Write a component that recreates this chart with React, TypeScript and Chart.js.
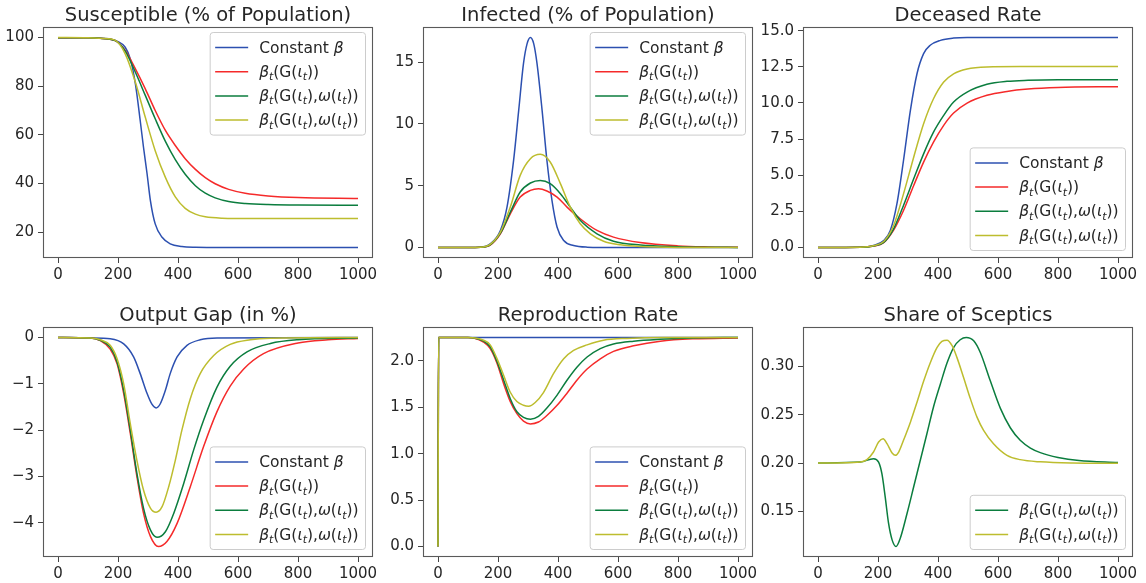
import React, { useEffect, useRef } from "react";
import { Chart, registerables } from "chart.js";
Chart.register(...registerables);

// ---------- shared axis data ----------
const X_TICKS = [0, 200, 400, 600, 800, 1000];
const X_MIN = -50;
const X_MAX = 1050;

// ---------- colours ----------
const BLUE = "#2c50b0";
const RED = "#f52a2a";
const GREEN = "#0b7d3e";
const YELLOW = "#bdbd2e";
const TEXT = "#262626";

// ---------- legend labels (mathtext-like segments) ----------
type Seg = { t: string; i?: boolean; s?: boolean };
const LBL_CONST: Seg[] = [{ t: "Constant " }, { t: "β", i: true }];
const LBL_G: Seg[] = [
  { t: "β", i: true }, { t: "t", i: true, s: true }, { t: "(G(" },
  { t: "ι", i: true }, { t: "t", i: true, s: true }, { t: "))" },
];
const LBL_GW: Seg[] = [
  { t: "β", i: true }, { t: "t", i: true, s: true }, { t: "(G(" },
  { t: "ι", i: true }, { t: "t", i: true, s: true }, { t: ")," },
  { t: "ω", i: true }, { t: "(" }, { t: "ι", i: true }, { t: "t", i: true, s: true }, { t: "))" },
];

// ---------- Panel 1: Susceptible ----------
const S_BLUE_X = [0, 100, 150, 180, 200, 224, 241, 258, 274, 285, 297, 308, 324, 347, 374, 413, 458, 550, 1000];
const S_BLUE_Y = [99.9, 99.85, 99.6, 99.2, 98.3, 96.0, 91.2, 80.9, 65.9, 54.9, 43.9, 33.0, 23.4, 17.9, 15.2, 14.1, 13.8, 13.7, 13.7];
const S_RED_X = [0, 100, 150, 191, 224, 258, 291, 324, 358, 391, 424, 458, 491, 524, 569, 624, 700, 800, 1000];
const S_RED_Y = [99.9, 99.85, 99.6, 98.7, 94.7, 87.1, 78.9, 70.0, 61.8, 55.6, 50.2, 45.8, 42.4, 39.9, 37.6, 36.0, 34.9, 34.2, 33.8];
const S_GREEN_X = [0, 100, 150, 191, 224, 258, 291, 324, 358, 391, 424, 458, 491, 524, 569, 624, 700, 800, 1000];
const S_GREEN_Y = [99.9, 99.85, 99.6, 98.7, 94.4, 85.7, 76.2, 66.6, 57.3, 49.8, 43.8, 39.1, 36.0, 34.1, 32.6, 31.8, 31.35, 31.15, 31.1];
const S_YELLOW_X = [0, 100, 150, 191, 224, 258, 291, 324, 358, 391, 424, 458, 491, 547, 650, 800, 1000];
const S_YELLOW_Y = [100, 99.9, 99.6, 98.8, 93.3, 81.6, 67.2, 53.5, 42.5, 34.5, 29.8, 27.4, 26.3, 25.75, 25.6, 25.6, 25.6];
const S_Y_TICKS = [20, 40, 60, 80, 100];
const S_Y_LABELS = ["20", "40", "60", "80", "100"];

// ---------- Panel 2: Infected ----------
const I_BLUE_X = [0, 100, 141, 174, 208, 230, 252, 269, 285, 297, 308, 319, 330, 347, 363, 380, 397, 419, 452, 497, 600, 1000];
const I_BLUE_Y = [0, 0, 0.02, 0.29, 1.38, 3.27, 7.06, 11.1, 14.9, 16.5, 17.0, 16.5, 14.9, 11.1, 7.06, 3.8, 1.64, 0.56, 0.16, 0.03, 0, 0];
const I_RED_X = [0, 100, 141, 174, 208, 241, 274, 308, 335, 363, 397, 430, 474, 530, 585, 674, 800, 900, 1000];
const I_RED_Y = [0, 0, 0.02, 0.2, 1.11, 2.73, 4.08, 4.62, 4.75, 4.57, 4.08, 3.27, 2.33, 1.38, 0.84, 0.4, 0.13, 0.05, 0.02];
const I_GREEN_X = [0, 100, 141, 174, 208, 241, 274, 308, 341, 374, 408, 441, 474, 530, 585, 674, 800, 900, 1000];
const I_GREEN_Y = [0, 0, 0.02, 0.22, 1.16, 2.86, 4.49, 5.22, 5.43, 5.17, 4.36, 3.27, 2.2, 1.11, 0.51, 0.2, 0.06, 0.02, 0.01];
const I_YELLOW_X = [0, 100, 141, 174, 208, 241, 274, 308, 341, 374, 408, 441, 474, 508, 552, 608, 674, 800, 1000];
const I_YELLOW_Y = [0, 0, 0.02, 0.25, 1.24, 3.27, 5.84, 7.19, 7.54, 6.92, 5.17, 3.27, 1.92, 1.11, 0.51, 0.22, 0.08, 0.01, 0];
const I_Y_TICKS = [0, 5, 10, 15];
const I_Y_LABELS = ["0", "5", "10", "15"];

// ---------- Panel 3: Deceased ----------
const D_BLUE_X = [0, 141, 185, 219, 241, 263, 285, 308, 330, 352, 374, 408, 452, 497, 600, 1000];
const D_BLUE_Y = [0, 0.02, 0.14, 0.48, 1.18, 3.02, 6.02, 9.49, 12.02, 13.41, 13.99, 14.33, 14.49, 14.53, 14.53, 14.53];
const D_RED_X = [0, 141, 185, 219, 252, 285, 319, 352, 385, 419, 452, 497, 563, 630, 700, 800, 1000];
const D_RED_Y = [0, 0.02, 0.1, 0.33, 1.2, 2.56, 4.29, 5.91, 7.29, 8.45, 9.3, 9.99, 10.53, 10.8, 10.96, 11.07, 11.13];
const D_GREEN_X = [0, 141, 185, 219, 252, 285, 319, 352, 385, 419, 452, 497, 563, 630, 700, 800, 1000];
const D_GREEN_Y = [0, 0.02, 0.11, 0.35, 1.29, 2.91, 4.75, 6.48, 7.98, 9.14, 10.06, 10.75, 11.29, 11.5, 11.57, 11.6, 11.6];
const D_YELLOW_X = [0, 141, 185, 219, 252, 285, 319, 352, 385, 419, 452, 497, 563, 674, 1000];
const D_YELLOW_Y = [0, 0.02, 0.12, 0.41, 1.52, 3.71, 6.25, 8.56, 10.29, 11.45, 12.02, 12.35, 12.49, 12.52, 12.52];
const D_Y_TICKS = [0, 2.5, 5, 7.5, 10, 12.5, 15];
const D_Y_LABELS = ["0.0", "2.5", "5.0", "7.5", "10.0", "12.5", "15.0"];

// ---------- Panel 4: Output Gap ----------
const O_BLUE_X = [0, 108, 174, 219, 252, 274, 297, 313, 327, 341, 358, 374, 397, 430, 474, 530, 1000];
const O_BLUE_Y = [0, -0.01, -0.03, -0.14, -0.42, -0.78, -1.21, -1.44, -1.52, -1.43, -1.14, -0.78, -0.42, -0.17, -0.05, -0.01, 0];
const O_RED_X = [0, 108, 141, 174, 197, 219, 241, 263, 285, 308, 335, 363, 397, 441, 485, 530, 574, 619, 685, 800, 900, 1000];
const O_RED_Y = [0, -0.01, -0.07, -0.25, -0.57, -1.21, -2.07, -3.0, -3.79, -4.29, -4.51, -4.4, -4.01, -3.22, -2.36, -1.6, -1.05, -0.68, -0.35, -0.12, -0.05, -0.02];
const O_GREEN_X = [0, 108, 141, 174, 197, 219, 241, 263, 285, 308, 330, 358, 386, 419, 452, 485, 530, 574, 630, 708, 800, 1000];
const O_GREEN_Y = [0, -0.01, -0.06, -0.21, -0.53, -1.14, -2.0, -2.93, -3.68, -4.15, -4.31, -4.19, -3.79, -3.15, -2.43, -1.79, -1.07, -0.62, -0.31, -0.13, -0.05, -0.01];
const O_YELLOW_X = [0, 108, 141, 174, 197, 219, 241, 263, 285, 308, 327, 347, 369, 391, 413, 441, 474, 519, 574, 641, 708, 1000];
const O_YELLOW_Y = [0, -0.01, -0.05, -0.17, -0.46, -1.0, -1.86, -2.65, -3.29, -3.68, -3.77, -3.65, -3.22, -2.65, -2.0, -1.32, -0.78, -0.39, -0.15, -0.05, -0.015, 0];
const O_Y_TICKS = [-4, -3, -2, -1, 0];
const O_Y_LABELS = ["−4", "−3", "−2", "−1", "0"];

// ---------- Panel 5: Reproduction Rate ----------
const R_BLUE_X = [0, 2, 1000];
const R_BLUE_Y = [0, 2.25, 2.25];
const R_RED_X = [0, 2, 100, 119, 152, 174, 197, 219, 241, 263, 285, 308, 335, 363, 397, 430, 463, 497, 541, 585, 652, 741, 850, 1000];
const R_RED_Y = [0, 2.25, 2.25, 2.245, 2.2, 2.13, 1.97, 1.75, 1.56, 1.43, 1.35, 1.32, 1.34, 1.41, 1.52, 1.65, 1.79, 1.91, 2.02, 2.1, 2.16, 2.21, 2.235, 2.245];
const R_GREEN_X = [0, 2, 100, 152, 174, 197, 219, 241, 263, 285, 308, 335, 363, 397, 430, 463, 497, 541, 585, 652, 741, 850, 1000];
const R_GREEN_Y = [0, 2.25, 2.25, 2.21, 2.15, 1.99, 1.79, 1.59, 1.45, 1.39, 1.37, 1.4, 1.49, 1.63, 1.79, 1.93, 2.04, 2.13, 2.18, 2.21, 2.23, 2.245, 2.25];
const R_YELLOW_X = [0, 2, 100, 152, 174, 197, 219, 241, 263, 285, 302, 324, 352, 385, 419, 452, 497, 552, 630, 750, 1000];
const R_YELLOW_Y = [0, 2.25, 2.25, 2.22, 2.17, 2.02, 1.84, 1.66, 1.56, 1.52, 1.51, 1.55, 1.66, 1.86, 2.02, 2.11, 2.17, 2.22, 2.24, 2.25, 2.25];
const R_Y_TICKS = [0, 0.5, 1, 1.5, 2];
const R_Y_LABELS = ["0.0", "0.5", "1.0", "1.5", "2.0"];

// ---------- Panel 6: Share of Sceptics ----------
const K_GREEN_X = [0, 141, 185, 202, 213, 224, 235, 247, 260, 274, 297, 319, 341, 363, 385, 408, 430, 452, 474, 494, 519, 541, 574, 608, 641, 674, 708, 741, 800, 870, 1000];
const K_GREEN_Y = [0.2, 0.201, 0.2045, 0.201, 0.189, 0.165, 0.138, 0.1205, 0.1136, 0.122, 0.148, 0.1754, 0.2029, 0.2303, 0.258, 0.2818, 0.3035, 0.3195, 0.3275, 0.3299, 0.3265, 0.3144, 0.2853, 0.2565, 0.2365, 0.2235, 0.2155, 0.2108, 0.2058, 0.2025, 0.2005];
const K_YELLOW_X = [0, 141, 163, 185, 202, 217, 230, 247, 258, 269, 285, 308, 330, 352, 374, 397, 413, 430, 447, 463, 485, 508, 530, 552, 585, 630, 674, 741, 850, 1000];
const K_YELLOW_Y = [0.2, 0.2011, 0.2035, 0.2114, 0.2217, 0.2251, 0.22, 0.2104, 0.208, 0.2114, 0.2235, 0.2423, 0.2629, 0.2845, 0.3035, 0.3196, 0.3258, 0.3271, 0.3214, 0.3093, 0.2887, 0.2664, 0.2475, 0.2338, 0.22, 0.208, 0.2035, 0.2012, 0.2, 0.1997];
const K_Y_TICKS = [0.15, 0.2, 0.25, 0.3];
const K_Y_LABELS = ["0.15", "0.20", "0.25", "0.30"];

// ---------- layout (plot rectangles) ----------
const COL_LEFT = [43, 423, 803];
const PLOT_W = 330;
const ROW_TOP = [27, 327];
const ROW_H = [231, 230];
const AXIS_W = 62;
const AXIS_H = 26;
const PAD_T = 30;
const PAD_R = 10;

const FONT = "'DejaVu Sans', 'Liberation Sans', sans-serif";
const TICK_FS = 15;
const LEG_FS = 15.5;
const TITLE_FS = 19.5;

type Series = { label: string; segs: Seg[]; color: string; xs: number[]; ys: number[] };
type PanelCfg = {
  title: string; col: number; row: number; legend: "upper" | "lower";
  yTicks: number[]; yLabels: string[]; series: Series[];
};

const sBlue = (xs: number[], ys: number[]): Series => ({ label: "Constant β", segs: LBL_CONST, color: BLUE, xs, ys });
const sRed = (xs: number[], ys: number[]): Series => ({ label: "βₜ(G(ιₜ))", segs: LBL_G, color: RED, xs, ys });
const sGreen = (xs: number[], ys: number[]): Series => ({ label: "βₜ(G(ιₜ),ω(ιₜ))", segs: LBL_GW, color: GREEN, xs, ys });
const sYellow = (xs: number[], ys: number[]): Series => ({ label: "βₜ(G(ιₜ),ω(ιₜ))", segs: LBL_GW, color: YELLOW, xs, ys });

const PANELS: PanelCfg[] = [
  { title: "Susceptible (% of Population)", col: 0, row: 0, legend: "upper", yTicks: S_Y_TICKS, yLabels: S_Y_LABELS,
    series: [sBlue(S_BLUE_X, S_BLUE_Y), sRed(S_RED_X, S_RED_Y), sGreen(S_GREEN_X, S_GREEN_Y), sYellow(S_YELLOW_X, S_YELLOW_Y)] },
  { title: "Infected (% of Population)", col: 1, row: 0, legend: "upper", yTicks: I_Y_TICKS, yLabels: I_Y_LABELS,
    series: [sBlue(I_BLUE_X, I_BLUE_Y), sRed(I_RED_X, I_RED_Y), sGreen(I_GREEN_X, I_GREEN_Y), sYellow(I_YELLOW_X, I_YELLOW_Y)] },
  { title: "Deceased Rate", col: 2, row: 0, legend: "lower", yTicks: D_Y_TICKS, yLabels: D_Y_LABELS,
    series: [sBlue(D_BLUE_X, D_BLUE_Y), sRed(D_RED_X, D_RED_Y), sGreen(D_GREEN_X, D_GREEN_Y), sYellow(D_YELLOW_X, D_YELLOW_Y)] },
  { title: "Output Gap (in %)", col: 0, row: 1, legend: "lower", yTicks: O_Y_TICKS, yLabels: O_Y_LABELS,
    series: [sBlue(O_BLUE_X, O_BLUE_Y), sRed(O_RED_X, O_RED_Y), sGreen(O_GREEN_X, O_GREEN_Y), sYellow(O_YELLOW_X, O_YELLOW_Y)] },
  { title: "Reproduction Rate", col: 1, row: 1, legend: "lower", yTicks: R_Y_TICKS, yLabels: R_Y_LABELS,
    series: [sBlue(R_BLUE_X, R_BLUE_Y), sRed(R_RED_X, R_RED_Y), sGreen(R_GREEN_X, R_GREEN_Y), sYellow(R_YELLOW_X, R_YELLOW_Y)] },
  { title: "Share of Sceptics", col: 2, row: 1, legend: "lower", yTicks: K_Y_TICKS, yLabels: K_Y_LABELS,
    series: [sGreen(K_GREEN_X, K_GREEN_Y), sYellow(K_YELLOW_X, K_YELLOW_Y)] },
];

function segFont(sg: Seg, fs: number) {
  const size = sg.s ? fs * 0.7 : fs;
  return `${sg.i ? "italic " : ""}${size}px ${FONT}`;
}
function segsWidth(ctx: CanvasRenderingContext2D, segs: Seg[], fs: number) {
  let w = 0;
  for (const sg of segs) { ctx.font = segFont(sg, fs); w += ctx.measureText(sg.t).width; }
  return w;
}
function drawSegs(ctx: CanvasRenderingContext2D, segs: Seg[], x: number, y: number, fs: number) {
  for (const sg of segs) {
    ctx.font = segFont(sg, fs);
    ctx.fillText(sg.t, x, sg.s ? y + fs * 0.22 : y);
    x += ctx.measureText(sg.t).width;
  }
}

function makeDecor(cfg: PanelCfg) {
  return {
    id: "decor",
    afterDraw(chart: any) {
      const ctx: CanvasRenderingContext2D = chart.ctx;
      const a = chart.chartArea;
      ctx.save();
      // frame (all four spines)
      ctx.strokeStyle = "#5a5a5a";
      ctx.lineWidth = 1.1;
      ctx.strokeRect(Math.round(a.left) + 0.5, Math.round(a.top) + 0.5, Math.round(a.right - a.left) - 1, Math.round(a.bottom - a.top) - 1);
      // title
      ctx.fillStyle = TEXT;
      ctx.font = `${TITLE_FS}px ${FONT}`;
      ctx.textAlign = "center";
      ctx.textBaseline = "alphabetic";
      ctx.fillText(cfg.title, (a.left + a.right) / 2, a.top - 6);
      // legend
      const fs = LEG_FS;
      const n = cfg.series.length;
      const textW = Math.max(...cfg.series.map((s) => segsWidth(ctx, s.segs, fs)));
      const boxW = 5 + 33 + 11 + textW + 7;
      const rowGap = 24.2;
      const boxH = 15 * 2 + rowGap * (n - 1);
      const right = a.right - 7.5;
      const left = right - boxW;
      const top = cfg.legend === "upper" ? a.top + 5.5 : a.bottom - 7.5 - boxH;
      const r = 3;
      ctx.beginPath();
      ctx.moveTo(left + r, top);
      ctx.lineTo(left + boxW - r, top);
      ctx.quadraticCurveTo(left + boxW, top, left + boxW, top + r);
      ctx.lineTo(left + boxW, top + boxH - r);
      ctx.quadraticCurveTo(left + boxW, top + boxH, left + boxW - r, top + boxH);
      ctx.lineTo(left + r, top + boxH);
      ctx.quadraticCurveTo(left, top + boxH, left, top + boxH - r);
      ctx.lineTo(left, top + r);
      ctx.quadraticCurveTo(left, top, left + r, top);
      ctx.closePath();
      ctx.fillStyle = "rgba(255,255,255,0.8)";
      ctx.fill();
      ctx.strokeStyle = "#cccccc";
      ctx.lineWidth = 1;
      ctx.stroke();
      ctx.textAlign = "left";
      cfg.series.forEach((s, i) => {
        const cy = top + 15 + i * rowGap;
        ctx.strokeStyle = s.color;
        ctx.lineWidth = 1.5;
        ctx.beginPath();
        ctx.moveTo(left + 5, cy);
        ctx.lineTo(left + 38, cy);
        ctx.stroke();
        ctx.fillStyle = TEXT;
        drawSegs(ctx, s.segs, left + 49, cy + 5, fs);
      });
      ctx.restore();
    },
  };
}

function Panel({ cfg }: { cfg: PanelCfg }) {
  const ref = useRef<HTMLCanvasElement>(null);
  const plotL = COL_LEFT[cfg.col];
  const plotT = ROW_TOP[cfg.row];
  const plotH = ROW_H[cfg.row];
  const cw = AXIS_W + PLOT_W + PAD_R;
  const chh = PAD_T + plotH + AXIS_H;
  const cl = plotL - AXIS_W;
  const ct = plotT - PAD_T;

  useEffect(() => {
    const all = cfg.series.flatMap((s) => s.ys);
    const lo = Math.min(...all);
    const hi = Math.max(...all);
    const span = hi - lo;
    const n = cfg.series.length;
    const chart = new Chart(ref.current as HTMLCanvasElement, {
      type: "line",
      data: {
        datasets: cfg.series.map((s, i) => ({
          label: s.label,
          data: s.xs.map((x, k) => ({ x, y: s.ys[k] })),
          borderColor: s.color,
          backgroundColor: s.color,
          borderWidth: 1.5,
          pointRadius: 0,
          fill: false,
          cubicInterpolationMode: "monotone" as const,
          order: n - 1 - i,
        })),
      },
      options: {
        animation: false,
        responsive: false,
        maintainAspectRatio: false,
        devicePixelRatio: 1,
        events: [],
        layout: { padding: { top: PAD_T, right: PAD_R, left: 0, bottom: 0 } },
        plugins: { legend: { display: false }, title: { display: false }, tooltip: { enabled: false } },
        scales: {
          x: {
            type: "linear",
            min: X_MIN,
            max: X_MAX,
            afterBuildTicks: (s: any) => { s.ticks = X_TICKS.map((v) => ({ value: v })); },
            afterFit: (s: any) => { s.height = AXIS_H; },
            border: { display: false },
            grid: { display: true, drawOnChartArea: false, drawTicks: true, tickLength: 5, tickColor: "#444", tickWidth: 1 },
            ticks: { color: TEXT, font: { size: TICK_FS, family: FONT }, padding: 3, maxRotation: 0, autoSkip: false,
              callback: (v: any) => String(v) },
          },
          y: {
            type: "linear",
            min: lo - 0.05 * span,
            max: hi + 0.05 * span,
            afterBuildTicks: (s: any) => { s.ticks = cfg.yTicks.map((v) => ({ value: v })); },
            afterFit: (s: any) => { s.width = AXIS_W; },
            border: { display: false },
            grid: { display: true, drawOnChartArea: false, drawTicks: true, tickLength: 5, tickColor: "#444", tickWidth: 1 },
            ticks: { color: TEXT, font: { size: TICK_FS, family: FONT }, padding: 4, autoSkip: false,
              callback: (_v: any, idx: number) => cfg.yLabels[idx] },
          },
        },
      } as any,
      plugins: [makeDecor(cfg)],
    });
    return () => chart.destroy();
  }, []);

  return (
    <canvas
      ref={ref}
      width={cw}
      height={chh}
      style={{ position: "absolute", left: cl, top: ct, width: cw, height: chh }}
    />
  );
}

export default function App() {
  return (
    <div style={{ position: "absolute", left: 0, top: 0, width: 1146, height: 583, overflow: "hidden", background: "#ffffff" }}>
      {PANELS.map((p, i) => <Panel key={i} cfg={p} />)}
    </div>
  );
}
